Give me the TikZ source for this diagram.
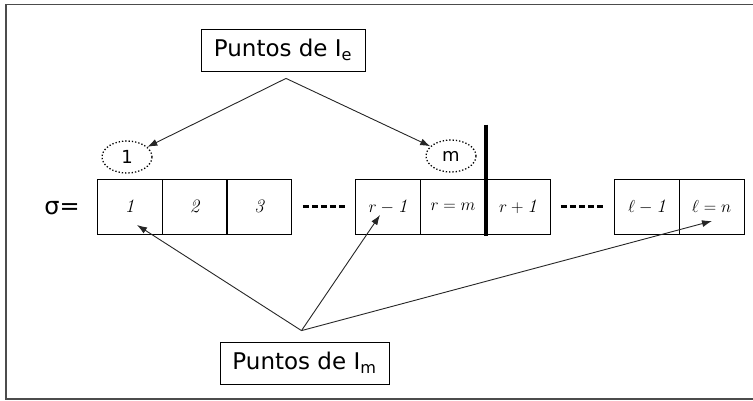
\documentclass[tikz,border=0pt]{standalone}
\usepackage{fontspec}
\newfontfamily\labelfont{DejaVu Sans}
\usetikzlibrary{shapes.geometric,arrows.meta}

\begin{document}
\begin{tikzpicture}[x=1pt,y=-1pt,
  cell/.style={draw, thick, minimum width=65pt, minimum height=55pt, inner sep=0pt,
    font=\fontsize{19}{19}\selectfont},
  puntos/.style={draw, thick, minimum height=42pt, inner sep=3pt,
    font=\labelfont\fontsize{23}{23}\selectfont},
  ovalo/.style={ellipse, draw, dotted, line width=1.3pt, minimum width=50pt,
    minimum height=32pt, inner sep=0pt, font=\labelfont\fontsize{18}{18}\selectfont},
  flecha/.style={-{Latex[length=10pt,width=7pt]}, line width=0.9pt, black!85},
  guiones/.style={line width=2.6pt, dash pattern=on 6pt off 3pt}]
  \useasboundingbox (0,0) rectangle (753,400);

  %% marco
  \draw[line width=1.6pt, black!70] (753,4.5) -- (6,4.5) -- (6,399) -- (753,399);

  %% permutacion
  \node[font=\labelfont\fontsize{24}{24}\selectfont, inner sep=0pt] (sigma) at (62,208) {σ=};
  \node[cell] (c1) at (129.5,206.5) {$\mathit{1}$};
  \node[cell] (c2) at (194.5,206.5) {$\mathit{2}$};
  \node[cell] (c3) at (259,206.5) {$\mathit{3}$};
  \draw[guiones] ([xshift=11pt]c3.east) -- ([xshift=53pt]c3.east);
  \node[cell] (crm) at (388,206.5) {$r-\mathit{1}$};
  \node[cell] (crr) at (453,206.5) {$r=m$};
  \node[cell] (crp) at (518,206.5) {$r+\mathit{1}$};
  \draw[guiones] ([xshift=10pt]crp.east) -- ([xshift=52pt]crp.east);
  \node[cell] (clm) at (647,206.5) {$\ell-\mathit{1}$};
  \node[cell] (cln) at (711.5,206.5) {$\ell=n$};

  %% corte
  \draw[line width=4pt] ([yshift=54pt]crr.north east) -- ([yshift=-2pt]crr.south east);

  %% puntos de I_e
  \node[puntos, minimum width=164pt] (pe) at (283,50) {Puntos de I\textsubscript{e}};
  \coordinate (ie) at ([yshift=-7pt,xshift=3pt]pe.south);
  \node[ovalo] (o1) at (127,157) {1};
  \node[ovalo] (om) at (451,156) {m};
  \draw[flecha] (ie) -- (o1);
  \draw[flecha] (ie) -- (om);

  %% puntos de I_m
  \node[puntos, minimum width=169pt] (pm) at (304.5,363) {Puntos de I\textsubscript{m}};
  \coordinate (im) at ([yshift=11pt,xshift=-3pt]pm.north);
  \draw[flecha] (im) -- ([shift={(7.5,18.5)}]c1.center);
  \draw[flecha] (im) -- ([shift={(-8,8.5)}]crm.center);
  \draw[flecha] (im) -- ([shift={(0.5,14.5)}]cln.center);

\end{tikzpicture}
\end{document}
